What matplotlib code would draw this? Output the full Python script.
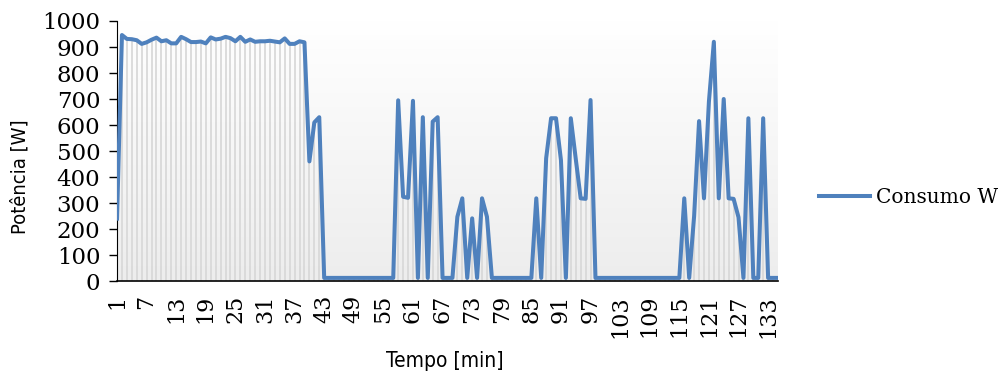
import matplotlib.pyplot as plt
import numpy as np
from matplotlib.colors import LinearSegmentedColormap

# consumo medido minuto a minuto
tempo = list(range(1, 136))
consumo = [240, 946, 931, 930, 926, 912, 918, 928, 936, 922,
           926, 914, 914, 939, 930, 919, 919, 921, 914, 937,
           929, 932, 939, 934, 922, 939, 920, 929, 920, 922,
           922, 924, 921, 918, 933, 912, 912, 922, 918, 460,
           610, 630] + [12] * 15 + \
          [695, 324, 320, 693, 12, 630, 12, 613, 630, 12,
           12, 12, 247, 318, 12, 241, 12, 318, 247] + [12] * 9 + \
          [318, 12, 472, 626, 626, 465, 12, 626, 470, 318,
           316, 696] + [12] * 18 + \
          [318, 12, 250, 615, 318, 690, 920, 318, 700, 318,
           316, 245, 12, 626, 12, 12, 626, 12, 12, 12]
xticks = list(range(1, 136, 6))
yticks = list(range(0, 1001, 100))

serif = ["DejaVu Serif"]
narrow = ["DejaVu Sans"]

fig = plt.figure(figsize=(10.01, 3.73), dpi=100)
ax = fig.add_axes([0.1169, 0.2466, 0.6603, 0.6971])

# fundo com gradiente suave (branco em cima, cinza em baixo)
grad = np.linspace(0, 1, 256).reshape(-1, 1)
fundo = LinearSegmentedColormap.from_list("fundo", ["#ffffff", "#ededed"])
ax.imshow(grad, extent=[0, 1, 0, 1], transform=ax.transAxes, aspect="auto",
          cmap=fundo, zorder=0)

ax.vlines(tempo, 0, consumo, color="#d9d9d9", lw=1.3, zorder=1)
ax.plot(tempo, consumo, color="#4f81bd", lw=2.9, label="Consumo W",
        solid_joinstyle="round", zorder=3)

ax.set_xlim(1, 135)
ax.set_ylim(0, 1000)
ax.set_xticks(xticks)
ax.set_xticklabels([str(t) for t in xticks], rotation=90, family=serif, fontsize=16)
ax.set_yticks(yticks)
ax.set_yticklabels([str(v) for v in yticks], family=serif, fontsize=16.5)
ax.tick_params(axis="y", length=6, width=1, pad=6)
ax.tick_params(axis="x", length=0, pad=10)

for s in ["top", "right"]:
    ax.spines[s].set_visible(False)
ax.spines["left"].set_color("black")
ax.spines["bottom"].set_color("black")
ax.spines["bottom"].set_linewidth(1.2)

ax.set_ylabel("Potência [W]", family=narrow, fontstretch="condensed", fontsize=14.5)
ax.yaxis.set_label_coords(-0.133, 0.4)
fig.text(0.444, 0.006, "Tempo [min]", family=narrow, fontstretch="condensed",
         fontsize=15, ha="center", va="bottom")

ax.legend(loc="center left", bbox_to_anchor=(1.035, 0.32), frameon=False,
          prop={"family": serif, "size": 14.5}, handlelength=2.5, handletextpad=0.3)

fig.savefig("out.png", dpi=100)
